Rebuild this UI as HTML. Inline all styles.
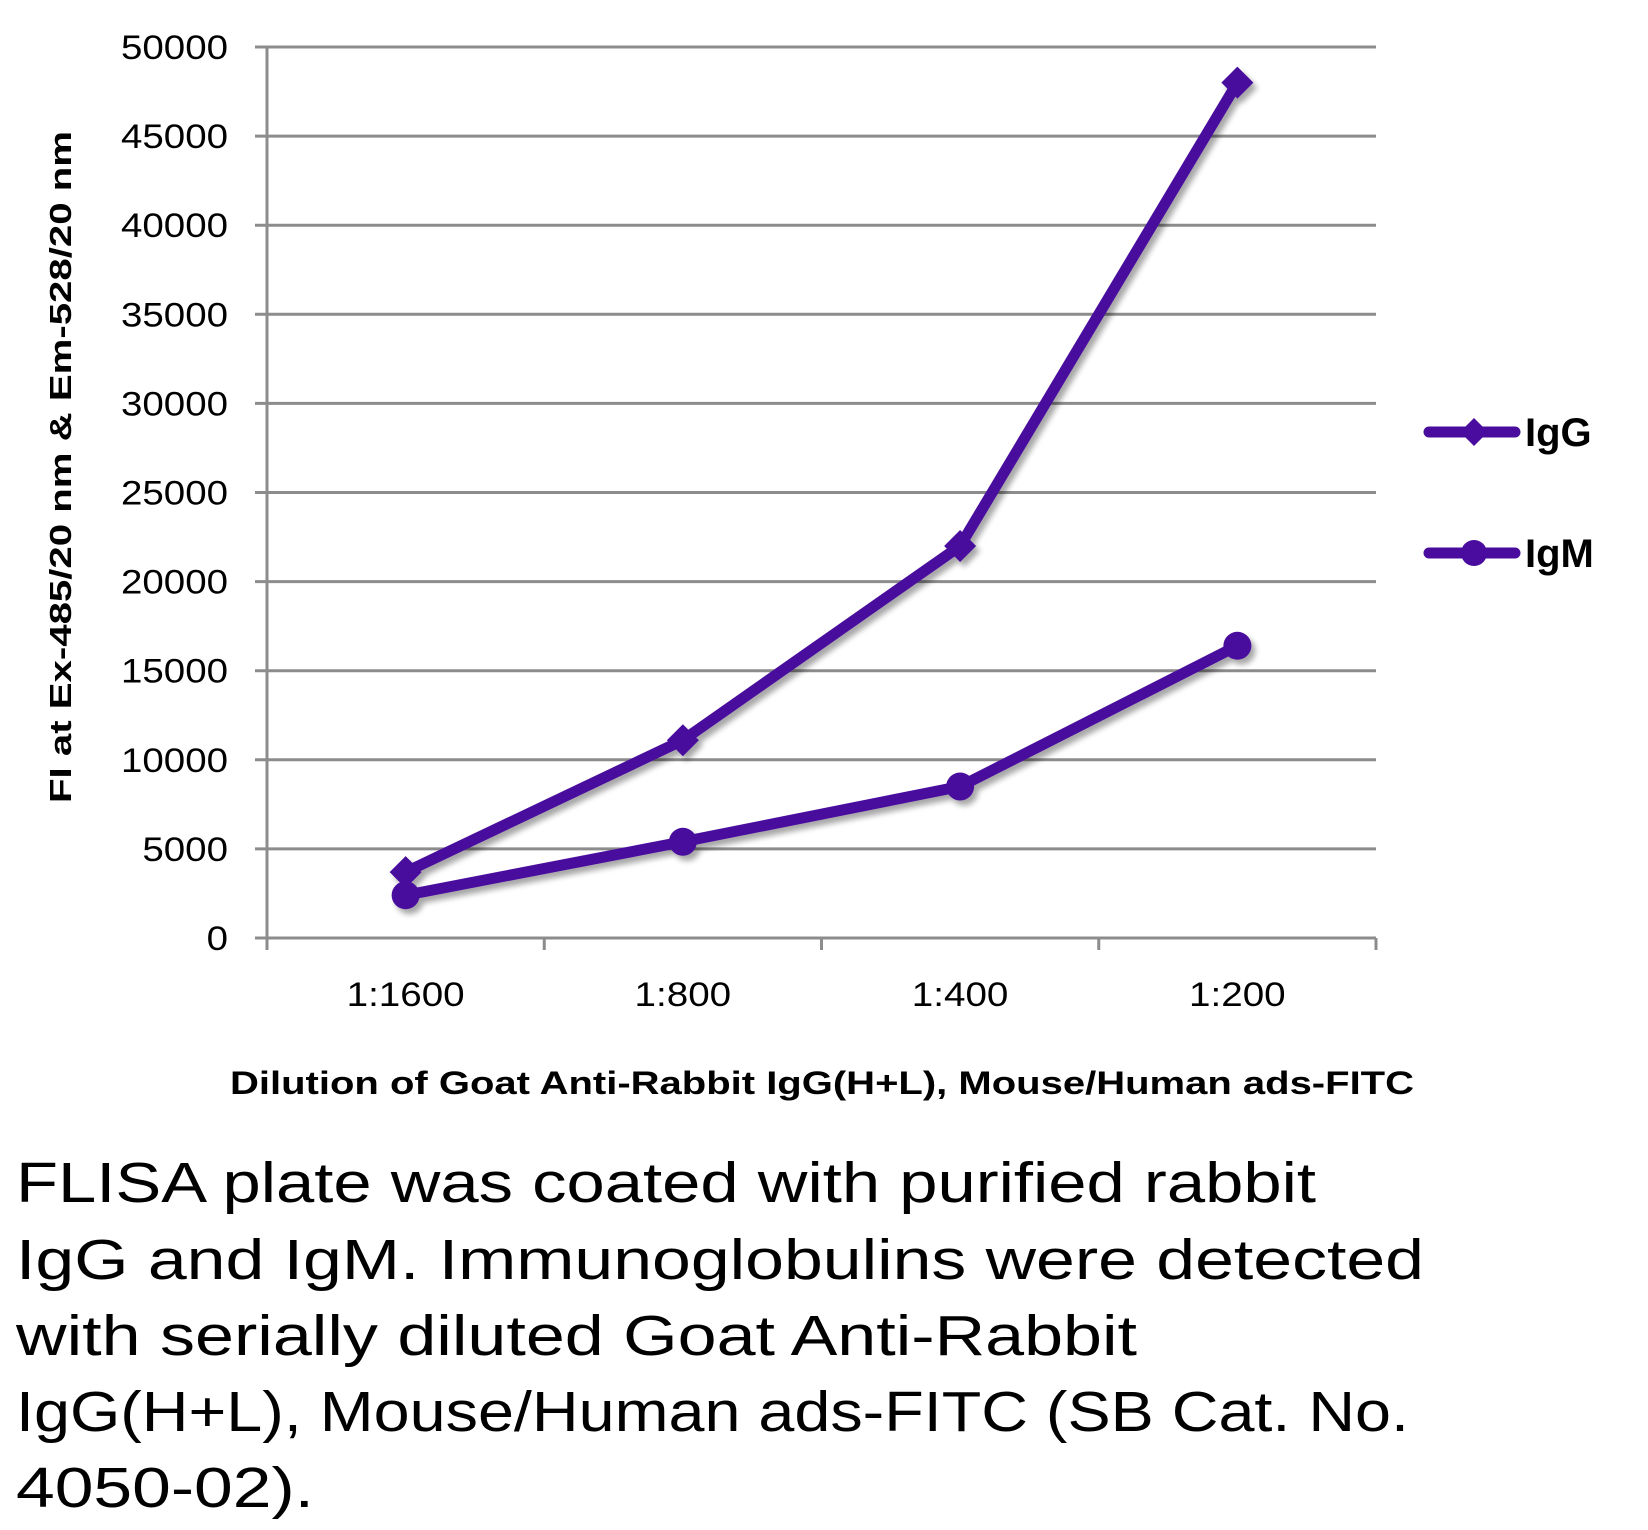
<!DOCTYPE html>
<html><head><meta charset="utf-8"><style>
html,body{margin:0;padding:0;background:#fff;}
svg{display:block;}
text{font-family:"Liberation Sans",sans-serif;}
</style></head><body>
<svg id="chart" width="1648" height="1530" viewBox="0 0 1648 1530">
<defs><filter id="sh" x="-10%" y="-10%" width="130%" height="130%"><feGaussianBlur in="SourceAlpha" stdDeviation="3"/><feOffset dx="4" dy="5"/><feComponentTransfer><feFuncA type="linear" slope="0.35"/></feComponentTransfer><feMerge><feMergeNode/><feMergeNode in="SourceGraphic"/></feMerge></filter></defs>
<g id="grid"></g>
<g id="yticks"></g>
<g id="xticks"></g>
<g id="series" filter="url(#sh)"></g>
<text transform="translate(71,467) rotate(-90)" text-anchor="middle" font-size="31" font-weight="bold" textLength="672" lengthAdjust="spacingAndGlyphs">FI at Ex-485/20 nm &amp; Em-528/20 nm</text>
<text x="230" y="1094" font-size="32" font-weight="bold" textLength="1184" lengthAdjust="spacingAndGlyphs">Dilution of Goat Anti-Rabbit IgG(H+L), Mouse/Human ads-FITC</text>
<g>
 <g>
  <line x1="1429" y1="432" x2="1515" y2="432" stroke="#4a0c9e" stroke-width="11" stroke-linecap="round"/>
  <path d="M1474 418 L1488 432 L1474 446 L1460 432 Z" fill="#4a0c9e"/>
  <text x="1525" y="446" font-size="40" font-weight="bold">IgG</text>
 </g>
 <g>
  <line x1="1429" y1="553" x2="1515" y2="553" stroke="#4a0c9e" stroke-width="11" stroke-linecap="round"/>
  <circle cx="1474" cy="553" r="13" fill="#4a0c9e"/>
  <text x="1525" y="567" font-size="40" font-weight="bold">IgM</text>
 </g>
</g>
<g font-size="57" fill="#000">
 <text x="16" y="1202" textLength="1300" lengthAdjust="spacingAndGlyphs">FLISA plate was coated with purified rabbit</text>
 <text x="16" y="1279" textLength="1408" lengthAdjust="spacingAndGlyphs">IgG and IgM.  Immunoglobulins were detected</text>
 <text x="16" y="1355" textLength="1121" lengthAdjust="spacingAndGlyphs">with serially diluted Goat Anti-Rabbit</text>
 <text x="16" y="1431" textLength="1393" lengthAdjust="spacingAndGlyphs">IgG(H+L), Mouse/Human ads-FITC (SB Cat. No.</text>
 <text x="16" y="1507" textLength="298" lengthAdjust="spacingAndGlyphs">4050-02).</text>
</g>
</svg>
<script>
const categories = ["1:1600","1:800","1:400","1:200"];
const iggValues = [3700, 11100, 22000, 48000];
const igmValues = [2400, 5400, 8500, 16400];
const yTicks = [0,5000,10000,15000,20000,25000,30000,35000,40000,45000,50000];
const NS="http://www.w3.org/2000/svg";
const X0=267,X1=1376,Y0=938,Y1=47,YMAX=50000;
const xs=i=>X0+(X1-X0)/categories.length*(i+0.5);
const ys=v=>Y0-(Y0-Y1)*v/YMAX;
function mk(tag,attrs,parent){const e=document.createElementNS(NS,tag);for(const k in attrs)e.setAttribute(k,attrs[k]);parent.appendChild(e);return e;}
const grid=document.getElementById('grid'),yt=document.getElementById('yticks'),xt=document.getElementById('xticks'),ser=document.getElementById('series');
yTicks.forEach(v=>{
 const l=mk('line',{x1:X0-12,x2:X1,y1:ys(v),y2:ys(v),stroke:'#8c8c8c','stroke-width':3},grid);
 
 
 const s=String(v);
 const t=mk('text',{x:228,y:ys(v)+12,'text-anchor':'end','font-size':34,textLength:s.length*21.4,lengthAdjust:'spacingAndGlyphs'},yt);
 t.textContent=s;
 
 
});
const ax=mk('line',{x1:X0,x2:X0,y1:Y1,y2:Y0+12,stroke:'#8c8c8c','stroke-width':3},grid);


for(let i=0;i<=categories.length;i++){
 const x=X0+(X1-X0)/categories.length*i;
 const tk=mk('line',{x1:x,x2:x,y1:Y0,y2:Y0+12,stroke:'#8c8c8c','stroke-width':3},grid);
 
 
}
categories.forEach((c,i)=>{
 const w=c.replace(/:/g,'').length*21.4+11;
 const t=mk('text',{x:xs(i)-w/2,y:1006,'font-size':34,textLength:w,lengthAdjust:'spacingAndGlyphs'},xt);
 t.textContent=c;
 
 
});
function drawSeries(vals,name,marker){
 const pts=vals.map((v,i)=>xs(i)+','+ys(v)).join(' ');
 const pl=mk('polyline',{points:pts,fill:'none',stroke:'#4a0c9e','stroke-width':11,'stroke-linejoin':'round','stroke-linecap':'round'},ser);
 
 
 vals.forEach((v,i)=>{
  const x=xs(i),y=ys(v);
  let m;
  if(marker==='diamond') m=mk('path',{d:`M${x} ${y-16} L${x+16} ${y} L${x} ${y+16} L${x-16} ${y} Z`,fill:'#4a0c9e'},ser);
  else m=mk('circle',{cx:x,cy:y,r:14,fill:'#4a0c9e'},ser);
  
  
 });
}
drawSeries(iggValues,'igg','diamond');
drawSeries(igmValues,'igm','circle');
</script>
</body></html>
